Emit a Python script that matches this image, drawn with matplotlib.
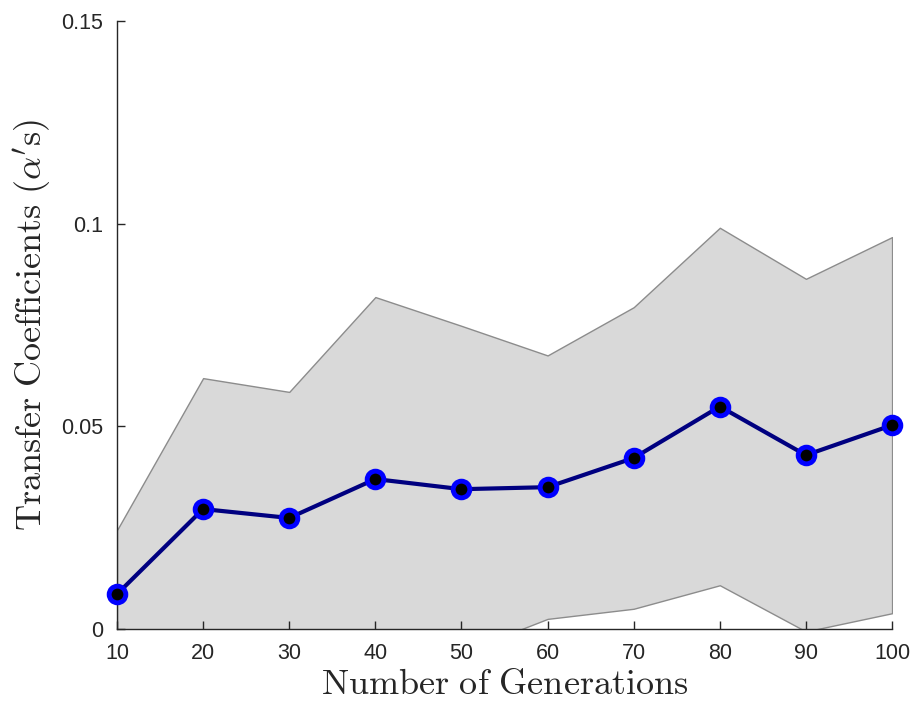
import numpy as np
import matplotlib
matplotlib.use("Agg")
import matplotlib.pyplot as plt

# data: mean and spread of the transfer coefficients
generations = [10, 20, 30, 40, 50, 60, 70, 80, 90, 100]
alpha_mean = [0.0086, 0.0296, 0.0274, 0.0370, 0.0345, 0.0350, 0.0422, 0.0549, 0.0429, 0.0503]
alpha_std = [0.0158, 0.0323, 0.0311, 0.0449, 0.0403, 0.0325, 0.0372, 0.0441, 0.0435, 0.0464]
ytick_vals = [0, 0.05, 0.1, 0.15]
ytick_labels = ["0", "0.05", "0.1", "0.15"]

plt.rcParams["mathtext.fontset"] = "cm"
plt.rcParams["font.family"] = ["Liberation Sans", "DejaVu Sans"]

x = np.array(generations)
m = np.array(alpha_mean)
s = np.array(alpha_std)

fig = plt.figure(figsize=(9.14, 7.09), dpi=100)
ax = fig.add_axes([0.128, 0.1128, 0.848, 0.8575])

ax.fill_between(x, m - s, m + s, facecolor=(0.85, 0.85, 0.85),
                edgecolor=(0.55, 0.55, 0.55), linewidth=1.0)
ax.plot(x, m, color="#000080", linewidth=3, marker="o", markersize=12,
        markerfacecolor="black", markeredgecolor="#0000ff",
        markeredgewidth=3.5, clip_on=False, zorder=5)

ax.set_xlim(10, 100)
ax.set_ylim(0, 0.15)
ax.set_xticks(generations)
ax.set_yticks(ytick_vals)
ax.set_yticklabels(ytick_labels)

axcol = (0.15, 0.15, 0.15)
for side in ["top", "right"]:
    ax.spines[side].set_visible(False)
for side in ["left", "bottom"]:
    ax.spines[side].set_color(axcol)
    ax.spines[side].set_linewidth(1.0)
ax.tick_params(direction="in", length=6, width=1, colors=axcol,
               labelsize=15.5, pad=10)

ax.set_xlabel(r"$\mathrm{Number\ of\ Generations}$", fontsize=26,
              color=axcol, labelpad=2)
ax.set_ylabel(r"$\mathrm{Transfer\ Coefficients\ (}\alpha\mathrm{'s)}$",
              fontsize=26, color=axcol, labelpad=6)

fig.savefig("out.png", dpi=100)
